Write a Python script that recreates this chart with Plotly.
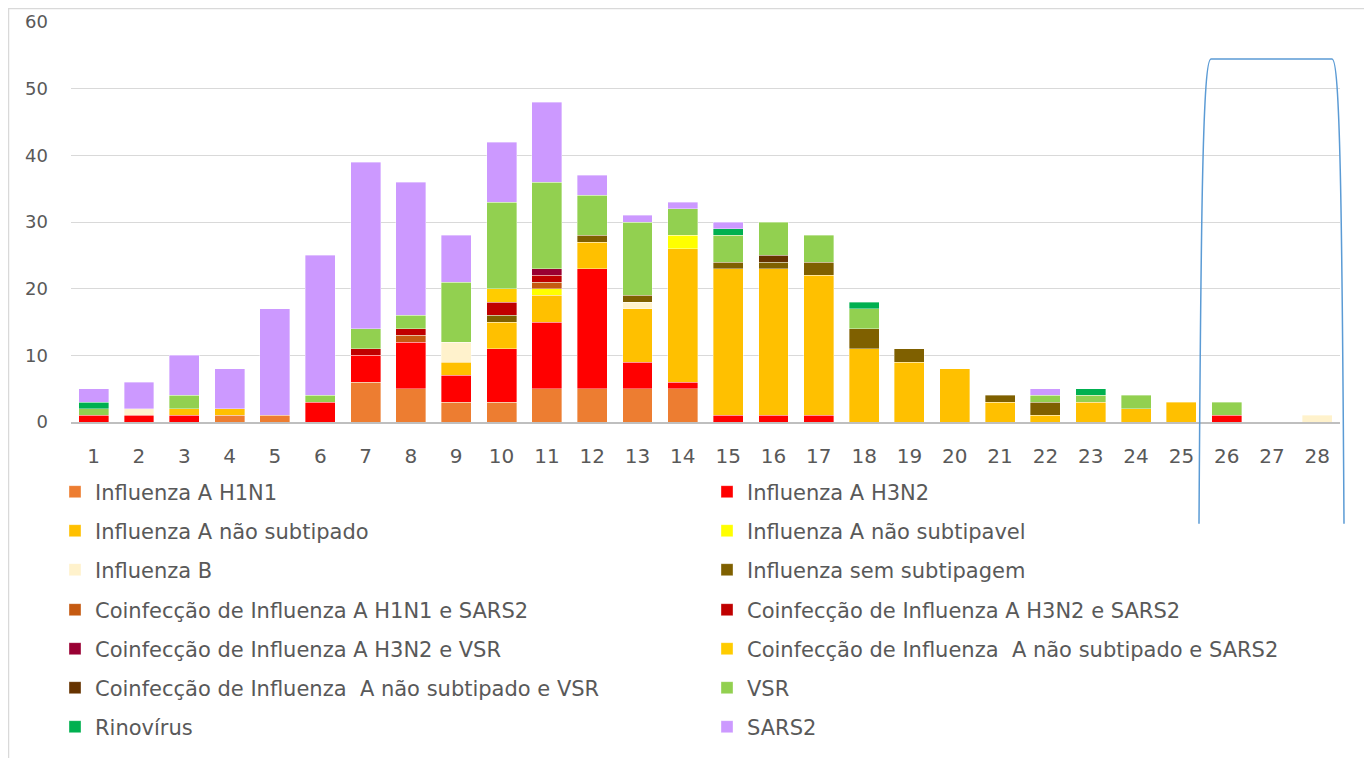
import plotly.graph_objects as go

# semanas epidemiologicas
semanas = [str(i) for i in range(1, 29)]

h1n1 = [0, 0, 0, 1, 1, 0, 6, 5, 3, 3, 5, 5, 5, 5, 0, 0, 0, 0, 0, 0, 0, 0, 0, 0, 0, 0, 0, 0]
h3n2 = [1, 1, 1, 0, 0, 3, 4, 7, 4, 8, 10, 18, 4, 1, 1, 1, 1, 0, 0, 0, 0, 0, 0, 0, 0, 1, 0, 0]
nao_subtipado = [0, 0, 1, 1, 0, 0, 0, 0, 2, 4, 4, 4, 8, 20, 22, 22, 21, 11, 9, 8, 3, 1, 3, 2, 3, 0, 0, 0]
nao_subtipavel = [0, 0, 0, 0, 0, 0, 0, 0, 0, 0, 1, 0, 0, 2, 0, 0, 0, 0, 0, 0, 0, 0, 0, 0, 0, 0, 0, 0]
influenza_b = [0, 1, 0, 0, 0, 0, 0, 0, 3, 0, 0, 0, 1, 0, 0, 0, 0, 0, 0, 0, 0, 0, 0, 0, 0, 0, 0, 1]
sem_subtipagem = [0, 0, 0, 0, 0, 0, 0, 0, 0, 1, 0, 1, 1, 0, 1, 1, 2, 3, 2, 0, 1, 2, 0, 0, 0, 0, 0, 0]
co_h1n1_sars2 = [0, 0, 0, 0, 0, 0, 0, 1, 0, 0, 1, 0, 0, 0, 0, 0, 0, 0, 0, 0, 0, 0, 0, 0, 0, 0, 0, 0]
co_h3n2_sars2 = [0, 0, 0, 0, 0, 0, 1, 1, 0, 2, 1, 0, 0, 0, 0, 0, 0, 0, 0, 0, 0, 0, 0, 0, 0, 0, 0, 0]
co_h3n2_vsr = [0, 0, 0, 0, 0, 0, 0, 0, 0, 0, 1, 0, 0, 0, 0, 0, 0, 0, 0, 0, 0, 0, 0, 0, 0, 0, 0, 0]
co_naosub_sars2 = [0, 0, 0, 0, 0, 0, 0, 0, 0, 2, 0, 0, 0, 0, 0, 0, 0, 0, 0, 0, 0, 0, 0, 0, 0, 0, 0, 0]
co_naosub_vsr = [0, 0, 0, 0, 0, 0, 0, 0, 0, 0, 0, 0, 0, 0, 0, 1, 0, 0, 0, 0, 0, 0, 0, 0, 0, 0, 0, 0]
vsr = [1, 0, 2, 0, 0, 1, 3, 2, 9, 13, 13, 6, 11, 4, 4, 5, 4, 3, 0, 0, 0, 1, 1, 2, 0, 2, 0, 0]
rinovirus = [1, 0, 0, 0, 0, 0, 0, 0, 0, 0, 0, 0, 0, 0, 1, 0, 0, 1, 0, 0, 0, 0, 1, 0, 0, 0, 0, 0]
sars2 = [2, 4, 6, 6, 16, 21, 25, 20, 7, 9, 12, 3, 1, 1, 1, 0, 0, 0, 0, 0, 0, 1, 0, 0, 0, 0, 0, 0]

series = [
    ("Influenza A H1N1", h1n1, "#ED7D31"),
    ("Influenza A H3N2", h3n2, "#FF0000"),
    ("Influenza A não subtipado", nao_subtipado, "#FFC000"),
    ("Influenza A não subtipavel", nao_subtipavel, "#FFFF00"),
    ("Influenza B", influenza_b, "#FFF2CC"),
    ("Influenza sem subtipagem", sem_subtipagem, "#7F6000"),
    ("Coinfecção de Influenza A H1N1 e SARS2", co_h1n1_sars2, "#C55A11"),
    ("Coinfecção de Influenza A H3N2 e SARS2", co_h3n2_sars2, "#C00000"),
    ("Coinfecção de Influenza A H3N2 e VSR", co_h3n2_vsr, "#990033"),
    ("Coinfecção de Influenza  A não subtipado e SARS2", co_naosub_sars2, "#FFCC00"),
    ("Coinfecção de Influenza  A não subtipado e VSR", co_naosub_vsr, "#663300"),
    ("VSR", vsr, "#92D050"),
    ("Rinovírus", rinovirus, "#00B050"),
    ("SARS2", sars2, "#CC99FF"),
]

# the page body has an 8px margin, so the figure is drawn 8px in
OFF = 8
W, H = 1372 - OFF, 758 - OFF
left, right, top, bottom = 71 - OFF, 1340 - OFF, 22 - OFF, 423 - OFF
text_color = "#595959"
font_name = "DejaVu Sans"


# screen pixel -> paper coords
def px_x(x):
    return (x - OFF - left) / (right - left)


def px_y(y):
    return (bottom - (y - OFF)) / (bottom - top)


fig = go.Figure()
for i, (name, values, color) in enumerate(series):
    legend_id = "legend" if i < 2 else "legend%d" % (i // 2 + 1)
    fig.add_trace(go.Bar(
        x=semanas,
        y=[v if v else None for v in values],
        name=name,
        marker_color=color,
        marker_line=dict(color="rgba(255,255,255,0.6)", width=0.6),
        legend=legend_id,
    ))

# one legend per row, two entries each
row_centers = [492, 531, 570, 610, 649, 688, 727]
legend_layout = {}
for r, yc in enumerate(row_centers):
    key = "legend" if r == 0 else "legend%d" % (r + 1)
    legend_layout[key] = dict(
        orientation="h",
        x=px_x(55), xanchor="left",
        y=px_y(yc), yanchor="middle",
        entrywidth=607,
        font=dict(family=font_name, size=21, color=text_color),
        bgcolor="rgba(0,0,0,0)",
        traceorder="normal",
    )

# chart frame and the blue hand drawn shape on top
shapes = [
    dict(type="rect", xref="paper", yref="paper",
         x0=px_x(8.5), x1=px_x(1368), y0=px_y(8.5), y1=px_y(790),
         line=dict(color="#D9D9D9", width=1.5)),
    dict(type="path", xref="paper", yref="paper",
         path="M %f,%f C %f,%f %f,%f %f,%f L %f,%f C %f,%f %f,%f %f,%f" % (
             px_x(1199), px_y(525), px_x(1201), px_y(200), px_x(1203), px_y(59), px_x(1211), px_y(59),
             px_x(1332), px_y(59), px_x(1340), px_y(59), px_x(1342), px_y(200), px_x(1344), px_y(525)),
         line=dict(color="#5B9BD5", width=1.5)),
]

fig.update_layout(
    barmode="stack",
    bargap=0.34,
    width=W, height=H,
    margin=dict(l=left, r=W - right, t=top, b=H - bottom, pad=0),
    plot_bgcolor="white",
    paper_bgcolor="white",
    font=dict(family=font_name, size=18, color=text_color),
    xaxis=dict(
        type="category", automargin=False,
        showgrid=False,
        showline=True, linecolor="#BFBFBF", linewidth=1.5,
        ticks="", ticklabelstandoff=15,
        tickfont=dict(size=20, color=text_color),
    ),
    yaxis=dict(
        range=[0, 60], dtick=10, automargin=False,
        showgrid=True, gridcolor="#D9D9D9", gridwidth=1,
        zeroline=False, showline=False,
        ticks="", ticklabelstandoff=22,
        tickfont=dict(size=18, color=text_color),
    ),
    shapes=shapes,
    **legend_layout,
)

fig.write_html("out.html")
